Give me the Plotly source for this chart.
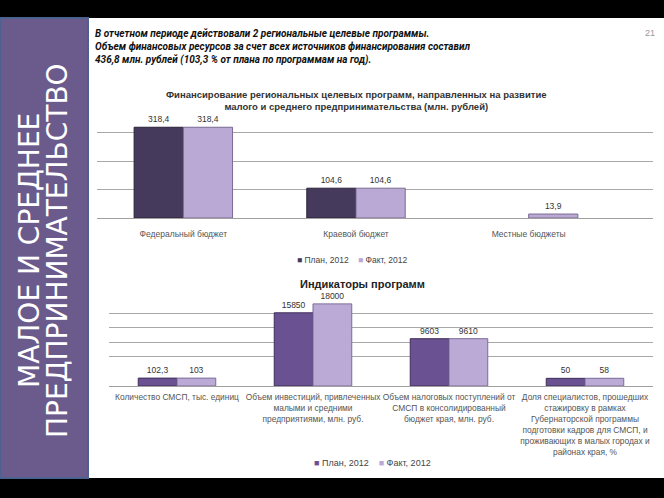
import plotly.graph_objects as go

# --- data -------------------------------------------------------------
budget_cats = ['Федеральный бюджет', 'Краевой бюджет', 'Местные бюджеты']
budget_plan = [318.4, 104.6, None]
budget_fact = [318.4, 104.6, 13.9]

ind_cats = [
    'Количество СМСП, тыс. единиц',
    'Объем инвестиций, привлеченных<br>малыми и средними<br>предприятиями, млн. руб.',
    'Объем налоговых поступлений от<br>СМСП в консолидированный<br>бюджет края, млн. руб.',
    'Доля специалистов, прошедших<br>стажировку в рамках<br>Губернаторской программы<br>'
    'подготовки кадров для СМСП, и<br>проживающих в малых городах и<br>районах края, %',
]
ind_plan = [102.3, 15850, 9603, 50]
ind_fact = [103, 18000, 9610, 58]

series_names = ['План, 2012', 'Факт, 2012']

W, H = 664, 498
FLOOR = -1800  # floor of the 3d-like lower chart

UP_PLAN, UP_FACT = '#463a5c', '#baa9d4'
LO_PLAN, LO_FACT = '#6a5191', '#bcaad6'


def px(x):
    return x / W


def py(y):
    return 1 - y / H


def lab(v):
    if v is None:
        return ''
    return ('%g' % v).replace('.', ',')


def legend_text(c1, c2):
    return ('<span style="color:%s">■</span> %s    <span style="color:%s">■</span> %s'
            % (c1, series_names[0], c2, series_names[1]))


fig = go.Figure()

# upper chart - financing
fig.add_trace(go.Bar(
    x=budget_cats, y=budget_plan, name=series_names[0],
    marker=dict(color=UP_PLAN, line=dict(color='#2a2238', width=1)),
    text=[lab(v) for v in budget_plan], textposition='outside', cliponaxis=False,
    textfont=dict(size=8.5, color='#333'), showlegend=False,
    xaxis='x', yaxis='y'))
fig.add_trace(go.Bar(
    x=budget_cats, y=budget_fact, name=series_names[1],
    marker=dict(color=UP_FACT, line=dict(color='#7a6a92', width=1)),
    text=[lab(v) for v in budget_fact], textposition='outside', cliponaxis=False,
    textfont=dict(size=8.5, color='#333'), showlegend=False,
    xaxis='x', yaxis='y'))

# lower chart - indicators (bars stand on a floor below zero)
fig.add_trace(go.Bar(
    x=list(range(4)), y=[v - FLOOR for v in ind_plan], base=FLOOR, name=series_names[0],
    marker=dict(color=LO_PLAN, line=dict(color='#3f2d5a', width=1)),
    text=[lab(v) for v in ind_plan], textposition='outside', cliponaxis=False,
    textfont=dict(size=8.5, color='#333'), showlegend=False,
    xaxis='x2', yaxis='y2'))
fig.add_trace(go.Bar(
    x=list(range(4)), y=[v - FLOOR for v in ind_fact], base=FLOOR, name=series_names[1],
    marker=dict(color=LO_FACT, line=dict(color='#7d6a9a', width=1)),
    text=[lab(v) for v in ind_fact], textposition='outside', cliponaxis=False,
    textfont=dict(size=8.5, color='#333'), showlegend=False,
    xaxis='x2', yaxis='y2'))

grid = dict(showgrid=True, gridcolor='#a8a8a8', gridwidth=1, zeroline=False,
            showticklabels=False, ticks='')

fig.update_layout(
    width=W, height=H,
    margin=dict(l=0, r=0, t=0, b=0),
    paper_bgcolor='black',
    plot_bgcolor='white',
    barmode='group', bargap=0.43, bargroupgap=0,
    font=dict(family='Liberation Sans, Arial, sans-serif', color='#333'),
    xaxis=dict(domain=[px(97), px(653)], range=[-0.5, 2.72], showgrid=False, anchor='y',
               showline=True, linecolor='#a0a0a0', tickfont=dict(size=8.5, color='#555'),
               ticks='', tickangle=0, ticklabelstandoff=8),
    yaxis=dict(domain=[py(218), py(104)], range=[0, 400], anchor='x',
               tickvals=[100, 200, 300, 400], **grid),
    xaxis2=dict(domain=[px(109), px(653)], range=[-0.5, 3.5], showgrid=False, anchor='y2',
                showline=True, linecolor='#a0a0a0', tickmode='array',
                tickvals=list(range(4)), ticktext=ind_cats, tickangle=0,
                ticklabelstandoff=3,
                tickfont=dict(size=8.4, color='#555'), ticks=''),
    yaxis2=dict(domain=[py(386), py(296)], range=[FLOOR, 19900], anchor='x2',
                tickvals=[5200, 8700, 12200, 15700], **grid),
    shapes=[
        dict(type='rect', xref='paper', yref='paper', x0=px(88), x1=1, y0=py(478), y1=py(18),
             fillcolor='white', line=dict(width=0), layer='below'),
        dict(type='rect', xref='paper', yref='paper', x0=0, x1=px(88), y0=py(478), y1=py(18),
             fillcolor='#6b5a8c', line=dict(color='#4d6191', width=2), layer='below'),
    ],
    annotations=[
        dict(text='МАЛОЕ И СРЕДНЕЕ', xref='paper', yref='paper', x=px(29), y=py(251),
             xanchor='center', yanchor='middle', textangle=-90, showarrow=False,
             font=dict(size=28, color='white', family='DejaVu Sans, sans-serif')),
        dict(text='ПРЕДПРИНИМАТЕЛЬСТВО', xref='paper', yref='paper', x=px(57), y=py(251),
             xanchor='center', yanchor='middle', textangle=-90, showarrow=False,
             font=dict(size=28, color='white', family='DejaVu Sans, sans-serif')),
        dict(text='<b><i>В отчетном периоде действовали 2 региональные целевые программы.<br>'
                  'Объем финансовых ресурсов за счет всех источников финансирования составил<br>'
                  '436,8 млн. рублей (103,3 % от плана по программам на год).</i></b>',
             xref='paper', yref='paper', x=px(93), y=py(26), xanchor='left', yanchor='top',
             align='left', showarrow=False,
             font=dict(size=10, color='#111',
                       family='Liberation Sans Narrow, Roboto, sans-serif')),
        dict(text='21', xref='paper', yref='paper', x=px(650), y=py(33), showarrow=False,
             xanchor='center', yanchor='middle', font=dict(size=9, color='#999')),
        dict(text='<b>Финансирование региональных целевых программ, направленных на развитие<br>'
                  'малого и среднего предпринимательства (млн. рублей)</b>',
             xref='paper', yref='paper', x=px(356), y=py(101), showarrow=False,
             xanchor='center', yanchor='middle', font=dict(size=9.5, color='#333')),
        dict(text='<b>Индикаторы программ</b>', xref='paper', yref='paper',
             x=px(362), y=py(284), showarrow=False, xanchor='center', yanchor='middle',
             font=dict(size=11, color='#222')),
        dict(text=legend_text(UP_PLAN, UP_FACT), xref='paper', yref='paper',
             x=px(352), y=py(260), showarrow=False, xanchor='center', yanchor='middle',
             font=dict(size=8.5, color='#444')),
        dict(text=legend_text(LO_PLAN, LO_FACT), xref='paper', yref='paper',
             x=px(372), y=py(463), showarrow=False, xanchor='center', yanchor='middle',
             font=dict(size=9, color='#444')),
    ],
)

fig.write_html('out.html', config={'displayModeBar': False},
               post_script="document.body.style.margin='0';")
